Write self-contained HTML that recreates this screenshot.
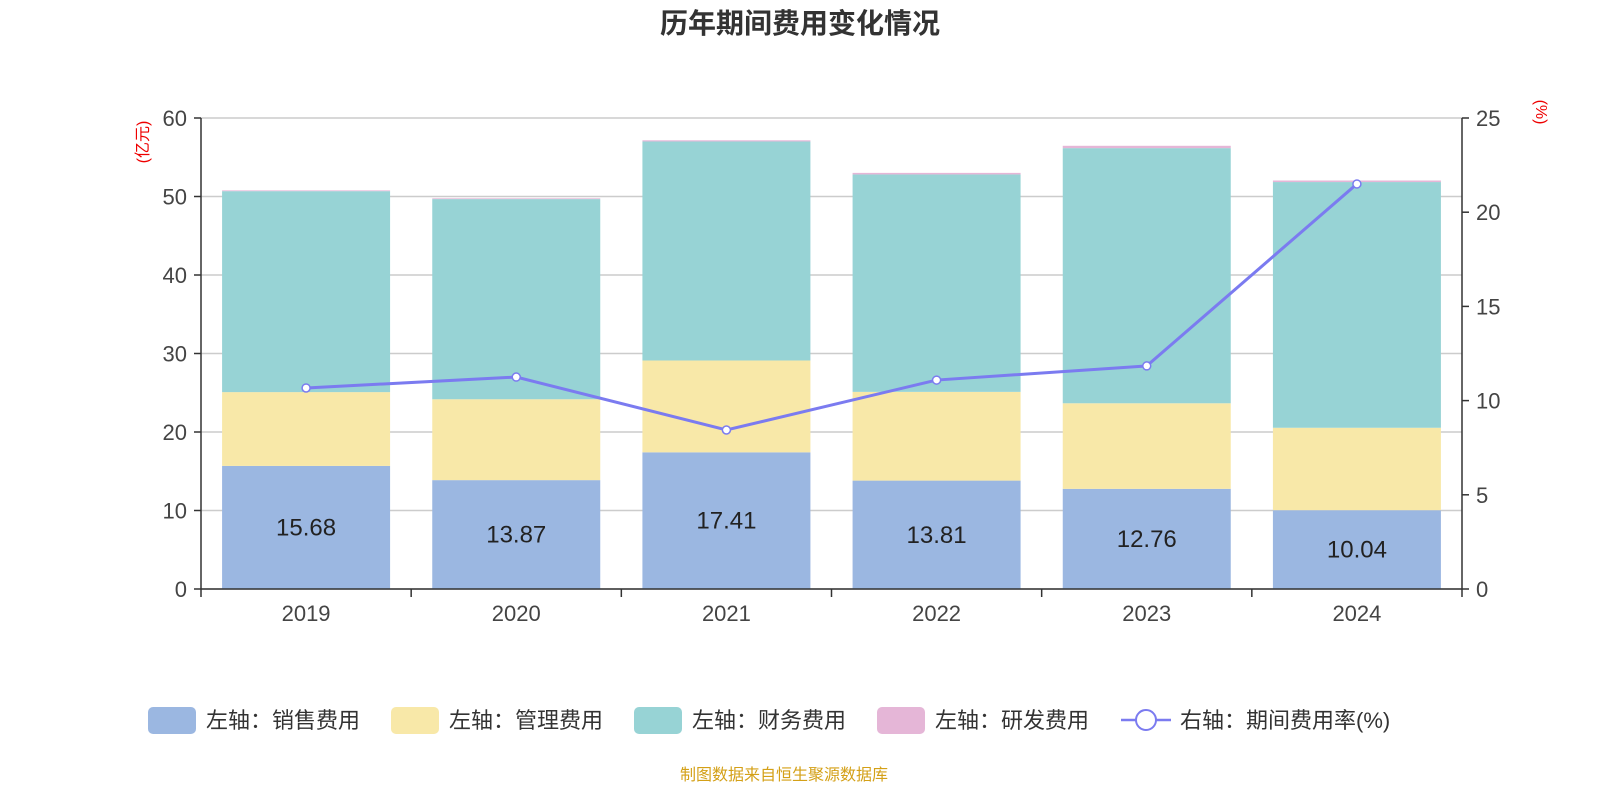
<!DOCTYPE html>
<html><head><meta charset="utf-8">
<style>
html,body{margin:0;padding:0;background:#fff;}
body{width:1600px;height:800px;overflow:hidden;font-family:"Liberation Sans","Noto Sans CJK SC",sans-serif;}
</style></head>
<body>
<svg id="chart" width="1600" height="800" xmlns="http://www.w3.org/2000/svg" font-family="Liberation Sans, Noto Sans CJK SC, sans-serif"></svg>
<script>
const categories=["2019","2020","2021","2022","2023","2024"];
const salesExp=[15.68,13.87,17.41,13.81,12.76,10.04];
const mgmtExp=[9.4,10.3,11.7,11.3,10.9,10.5];
const finExp=[25.6,25.5,27.9,27.7,32.5,31.3];
const rdExp=[0.1,0.1,0.15,0.2,0.3,0.2];
const rateVals=[10.67,11.25,8.44,11.09,11.84,21.5];
const leftTicks=[0,10,20,30,40,50,60];
const rightTicks=[0,5,10,15,20,25];

const NS="http://www.w3.org/2000/svg";
const svg=document.getElementById('chart');
function mk(tag,attrs,parent){const e=document.createElementNS(NS,tag);for(const k in attrs)e.setAttribute(k,attrs[k]);(parent||svg).appendChild(e);return e;}
const X0=201,X1=1462,Y0=589,Y1=118;
const yL=v=>Y0-(v/60)*(Y0-Y1);
const yR=v=>Y0-(v/25)*(Y0-Y1);
const bw=(X1-X0)/categories.length;
const xc=i=>X0+bw*(i+0.5);

let t=mk('text',{x:800,y:33,'text-anchor':'middle','font-size':28,'font-weight':'bold',fill:'#333'});
t.textContent='历年期间费用变化情况';

leftTicks.forEach(v=>{
  const l=mk('line',{x1:X0,x2:X1,y1:yL(v),y2:yL(v),stroke:'#ccc','stroke-width':1.5});
  
  mk('line',{x1:X0-7,x2:X0,y1:yL(v),y2:yL(v),stroke:'#333','stroke-width':1.5});
  const tx=mk('text',{x:X0-14,y:yL(v)+8,'text-anchor':'end','font-size':22,fill:'#444'});
  tx.textContent=v;
});
rightTicks.forEach(v=>{
  mk('line',{x1:X1,x2:X1+7,y1:yR(v),y2:yR(v),stroke:'#333','stroke-width':1.5});
  const tx=mk('text',{x:X1+14,y:yR(v)+8,'font-size':22,fill:'#444'});
  tx.textContent=v;
});
let a=mk('text',{transform:'translate(148,142) rotate(-90)','text-anchor':'middle','font-size':16,fill:'#e00'});
a.textContent='(亿元)';
a=mk('text',{transform:'translate(1536,112) rotate(90)','text-anchor':'middle','font-size':16,fill:'#e00'});
a.textContent='(%)';

const series=[[salesExp,'#9bb7e1','sales'],[mgmtExp,'#f8e8a8','mgmt'],[finExp,'#97d3d5','fin'],[rdExp,'#e5b6d7','rd']];
categories.forEach((c,i)=>{
  let base=0;
  series.forEach(([arr,col,nm])=>{
    const r=mk('rect',{x:xc(i)-84,width:168,y:yL(base+arr[i]),height:yL(base)-yL(base+arr[i]),fill:col});
    
    base+=arr[i];
  });
  const lb=mk('text',{x:xc(i),y:(yL(salesExp[i])+Y0)/2+8,'text-anchor':'middle','font-size':24,fill:'#222'});
  lb.textContent=salesExp[i].toFixed(2);
  const cl=mk('text',{x:xc(i),y:621,'text-anchor':'middle','font-size':22,fill:'#444'});
  cl.textContent=c;
});
for(let i=0;i<=categories.length;i++) mk('line',{x1:X0+bw*i,x2:X0+bw*i,y1:Y0,y2:Y0+8,stroke:'#333','stroke-width':1.5});
mk('line',{x1:X0,x2:X1,y1:Y0,y2:Y0,stroke:'#333','stroke-width':1.5});
mk('line',{x1:X0,x2:X0,y1:Y1,y2:Y0,stroke:'#333','stroke-width':1.5});
mk('line',{x1:X1,x2:X1,y1:Y1,y2:Y0,stroke:'#333','stroke-width':1.5});

const pl=mk('polyline',{points:rateVals.map((v,i)=>xc(i)+','+yR(v)).join(' '),fill:'none',stroke:'#7b7bf0','stroke-width':3});

rateVals.forEach((v,i)=>{
  const p=mk('circle',{cx:xc(i),cy:yR(v),r:4,fill:'#fff',stroke:'#7b7bf0','stroke-width':1.5});
  
});

const leg=[['左轴：销售费用','#9bb7e1',148],['左轴：管理费用','#f8e8a8',391],['左轴：财务费用','#97d3d5',634],['左轴：研发费用','#e5b6d7',877]];
leg.forEach(([txt,col,x])=>{
  const g=mk('g',{});
  mk('rect',{x:x,y:707,width:48,height:27,rx:5,fill:col},g);
  const tt=mk('text',{x:x+58,y:728,'font-size':22,fill:'#333'},g);tt.textContent=txt;
});
const g=mk('g',{});
mk('line',{x1:1121,x2:1171,y1:720,y2:720,stroke:'#7b7bf0','stroke-width':2.5},g);
mk('circle',{cx:1146,cy:720,r:10,fill:'#fff',stroke:'#7b7bf0','stroke-width':2},g);
const tt=mk('text',{x:1180,y:728,'font-size':22,fill:'#333'},g);tt.textContent='右轴：期间费用率(%)';

const src=mk('text',{x:784,y:780,'text-anchor':'middle','font-size':16,fill:'#d4a017'});
src.textContent='制图数据来自恒生聚源数据库';
</script>
</body></html>
